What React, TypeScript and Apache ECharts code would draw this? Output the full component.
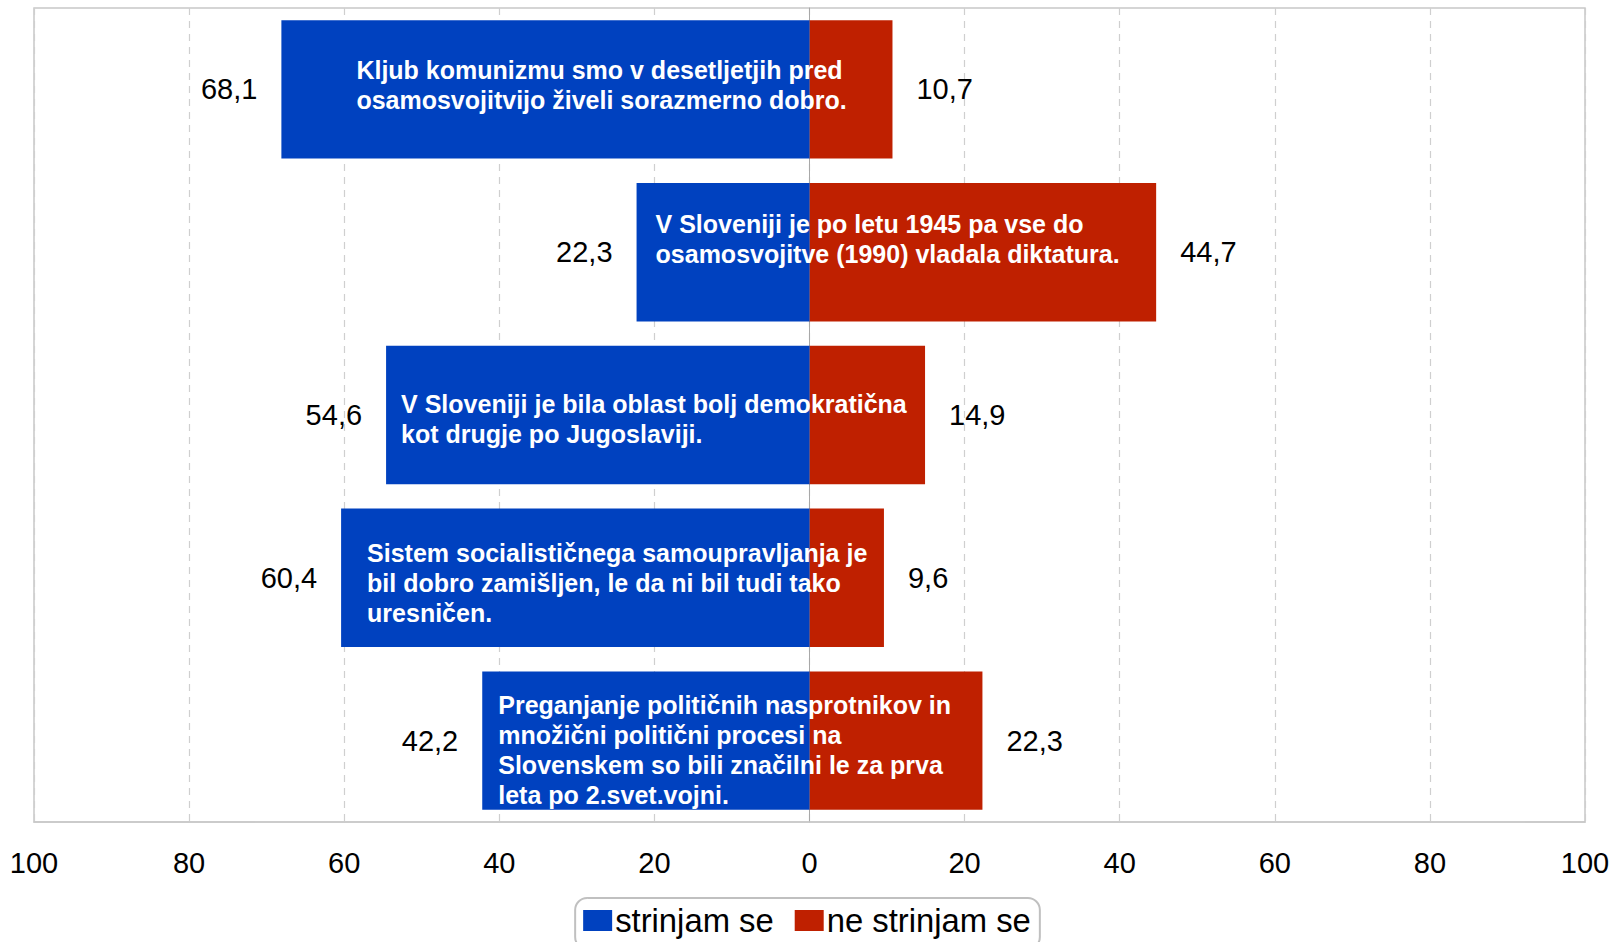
import React, { useEffect, useRef } from "react";
import * as echarts from "echarts";

const statements = [
  "Kljub komunizmu smo v desetljetjih pred\nosamosvojitvijo živeli sorazmerno dobro.",
  "V Sloveniji je po letu 1945 pa vse do\nosamosvojitve (1990) vladala diktatura.",
  "V Sloveniji je bila oblast bolj demokratična\nkot drugje po Jugoslaviji.",
  "Sistem socialističnega samoupravljanja je\nbil dobro zamišljen, le da ni bil tudi tako\nuresničen.",
  "Preganjanje političnih nasprotnikov in\nmnožični politični procesi na\nSlovenskem so bili značilni le za prva\nleta po 2.svet.vojni.",
];
const agree = [68.1, 22.3, 54.6, 60.4, 42.2];
const disagree = [10.7, 44.7, 14.9, 9.6, 22.3];
const seriesNames = ["strinjam se", "ne strinjam se"];

// layout: offsets of the statement text from the left end of the blue bar
const textOffsets: [number, number][] = [
  [75, -4],
  [19, -13],
  [15, 4],
  [26, 5],
  [16, 9],
];

const FONT = "'Liberation Sans', Arial, sans-serif";
const fmt = (v: number) => Math.abs(v).toFixed(1).replace(".", ",");

export default function App() {
  const ref = useRef<HTMLDivElement>(null);
  useEffect(() => {
    if (!ref.current) return;
    const chart = echarts.init(ref.current, undefined, { renderer: "svg" });
    chart.setOption({
      animation: false,
      backgroundColor: "#ffffff",
      textStyle: { fontFamily: FONT },
      grid: {
        left: 34,
        right: 29,
        top: 8,
        bottom: 120,
        show: true,
        borderColor: "#c8c8c8",
        borderWidth: 1.5,
      },
      legend: {
        data: seriesNames,
        left: "center",
        top: 898,
        itemWidth: 29,
        itemHeight: 21,
        itemGap: 21,
        borderColor: "#c0c0c0",
        borderWidth: 2,
        borderRadius: 12,
        padding: [6, 9, 12, 8],
        textStyle: { fontSize: 32.8, color: "#000", fontFamily: FONT, padding: [0, 0, 0, -2] },
        icon: "rect",
      },
      xAxis: {
        type: "value",
        min: -100,
        max: 100,
        interval: 20,
        axisLine: { show: true, lineStyle: { color: "#c8c8c8", width: 1.5 } },
        axisTick: { show: false },
        axisLabel: {
          fontSize: 29,
          color: "#000",
          fontFamily: FONT,
          margin: 26,
          formatter: (v: number) => String(Math.abs(v)),
        },
        splitLine: {
          show: true,
          lineStyle: { color: "#cfcfcf", type: [7, 6], width: 1.2 },
        },
      },
      yAxis: {
        type: "category",
        inverse: true,
        data: statements,
        axisLine: { show: true, onZero: true, lineStyle: { color: "#a8a8a8", width: 1 } },
        axisTick: { show: false },
        axisLabel: { show: false },
        splitLine: { show: false },
      },
      series: [
        {
          name: seriesNames[0],
          type: "bar",
          stack: "total",
          z: 3,
          barCategoryGap: "15%",
          itemStyle: { color: "#0041BF" },
          data: agree.map((v, i) => ({
            value: -v,
            label: {
              show: true,
              position: "insideLeft",
              distance: 0,
              offset: textOffsets[i],
              formatter: statements[i],
              color: "#fff",
              fontWeight: "bold",
              fontSize: 25,
              lineHeight: 30,
              fontFamily: FONT,
              align: "left",
            },
          })),
        },
        {
          name: seriesNames[1],
          type: "bar",
          stack: "total",
          z: 2,
          barCategoryGap: "15%",
          itemStyle: { color: "#BF2000" },
          label: {
            show: true,
            position: "right",
            distance: 24,
            fontSize: 29,
            color: "#000",
            fontFamily: FONT,
            formatter: (p: any) => fmt(p.value),
          },
          data: disagree,
        },
        {
          name: "agreeValues",
          type: "bar",
          stack: "labels",
          barCategoryGap: "15%",
          itemStyle: { color: "transparent" },
          silent: true,
          label: {
            show: true,
            position: "left",
            distance: 24,
            fontSize: 29,
            color: "#000",
            fontFamily: FONT,
            formatter: (p: any) => fmt(p.value),
          },
          barGap: "-100%",
          data: agree.map((v) => -v),
        },
      ],
    });
    return () => chart.dispose();
  }, []);
  return (
    <div
      ref={ref}
      style={{ position: "absolute", left: 0, top: 0, width: 1614, height: 942 }}
    />
  );
}
